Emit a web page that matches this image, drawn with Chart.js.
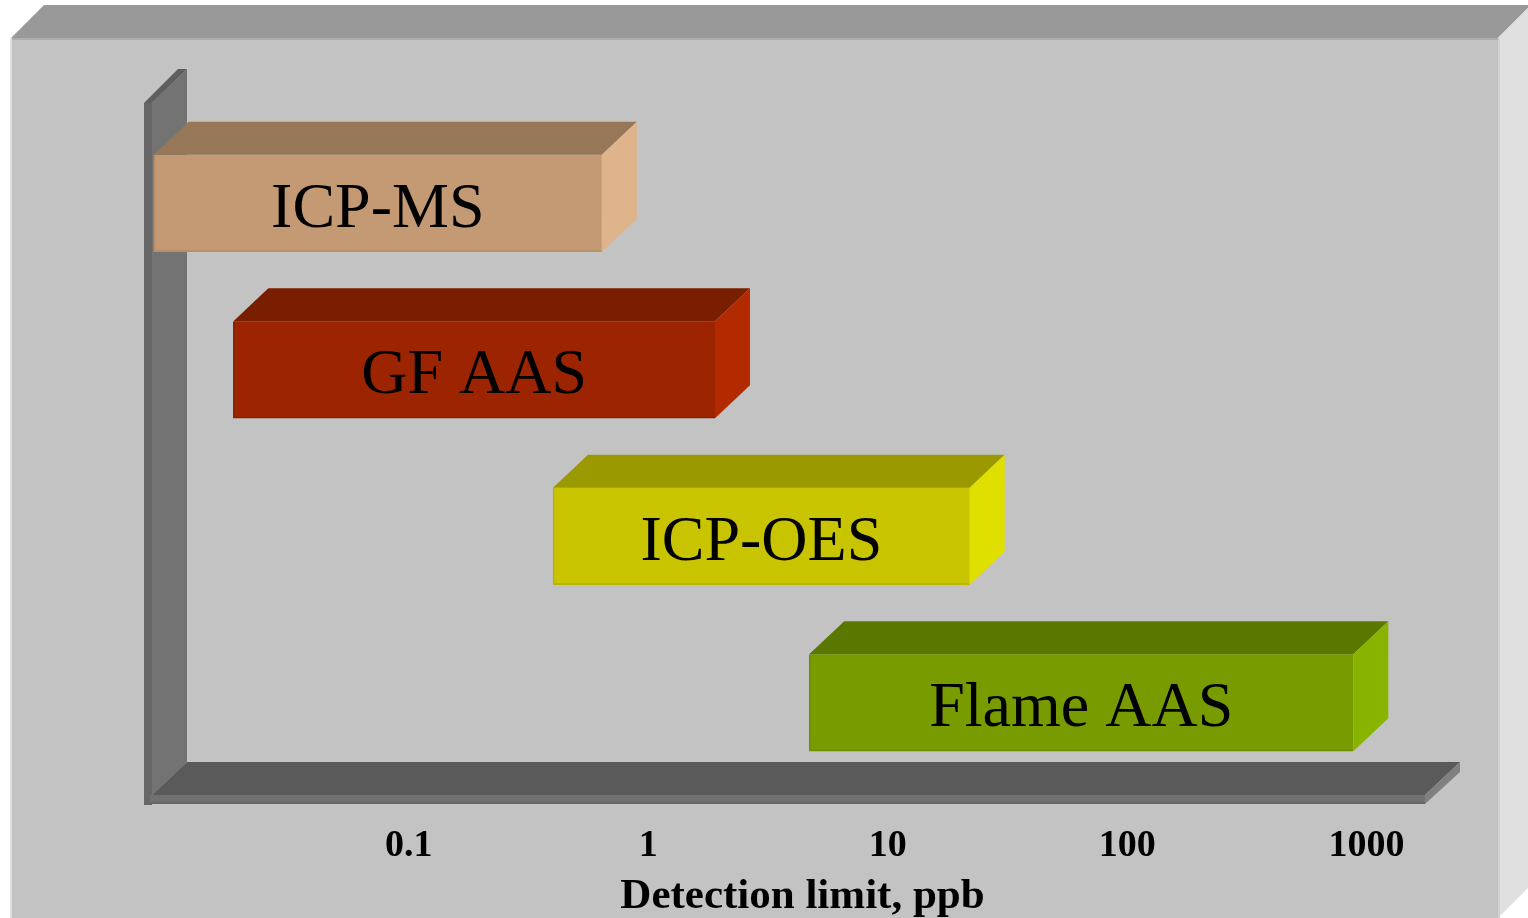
<!DOCTYPE html>
<html>
<head>
<meta charset="utf-8">
<title>Detection limit ranges</title>
<script src="https://cdn.jsdelivr.net/npm/chart.js@4.4.1/dist/chart.umd.min.js"></script>
<style>
  html, body { margin: 0; padding: 0; background: #ffffff; }
  #wrap { width: 1528px; height: 918px; }
  canvas { display: block; }
</style>
</head>
<body>
<div id="wrap"><canvas id="chart" width="1528" height="918"></canvas></div>
<script>
// Techniques and their detection-limit ranges (ppb)
const techniques = ['ICP-MS', 'GF AAS', 'ICP-OES', 'Flame AAS'];
const rangeLow  = [0.0086, 0.0185, 0.40, 4.7];
const rangeHigh = [0.64,   1.9,    22,   880];

// Axis ticks
const tickValues = [0.1, 1, 10, 100, 1000];
const tickLabels = ['0.1', '1', '10', '100', '1000'];

// Face colours for each box: front, top, side, edge
const frontColors = ['#c49a74', '#9c2400', '#c8c400', '#789c00'];
const topColors   = ['#967858', '#7a1e00', '#9a9a00', '#5a7800'];
const sideColors  = ['#e0b48a', '#b42a00', '#e0e000', '#88b400'];
const edgeColors  = ['#b88f69', '#8e2000', '#bab600', '#6e9000'];

const DX = 35, DY = 33; // depth of the 3D extrusion
const SERIF = '"Liberation Serif", "Times New Roman", serif';
const LABEL_SIZE = 64;

function poly(ctx, pts, fill) {
  ctx.beginPath();
  ctx.moveTo(pts[0][0], pts[0][1]);
  for (let i = 1; i < pts.length; i++) ctx.lineTo(pts[i][0], pts[i][1]);
  ctx.closePath();
  ctx.fillStyle = fill;
  ctx.fill();
}

// Room-like frame, walls and box faces around the floating bars
const framePlugin = {
  id: 'frame',
  beforeDraw(chart) {
    const ctx = chart.ctx;
    const W = chart.width, H = chart.height;
    ctx.save();
    ctx.fillStyle = '#ffffff';
    ctx.fillRect(0, 0, W, H);
    const L = 11, T = 38, R = W - 30;
    // back wall
    ctx.fillStyle = '#c3c3c3';
    ctx.fillRect(L, T, R - L, H - T);
    // ceiling
    poly(ctx, [[L, T], [L + 33, T - 33], [W + 3, T - 33], [R, T]], '#999999');
    ctx.fillStyle = '#adadad';
    ctx.fillRect(L, T, R - L, 2);
    // right side wall
    poly(ctx, [[R, T], [W + 3, T - 33], [W + 3, H - 33], [R, H]], '#e0e0e0');
    ctx.fillStyle = '#d2d2d2';
    ctx.fillRect(R, T, 2, H - T);
    // left edge highlight
    ctx.fillStyle = '#dedede';
    ctx.fillRect(L - 1, T, 2, H - T);
    ctx.restore();
  },
  beforeDatasetsDraw(chart) {
    const ctx = chart.ctx;
    const a = chart.chartArea;
    const floorY = a.bottom + 9;      // front top edge of the floor slab
    const floorR = a.right - 30;      // right end of the floor slab
    const x0 = a.left;
    const wallTop = a.top - 17;
    ctx.save();
    // vertical wall: side face
    poly(ctx, [[x0 + 2, wallTop], [x0 + 37, wallTop - DY - 1], [x0 + 37, floorY - DY], [x0 + 2, floorY]], '#737373');
    // vertical wall: front strip and its bevelled top
    ctx.fillStyle = '#676767';
    ctx.fillRect(x0 - 6, wallTop, 8, floorY + 10 - wallTop);
    poly(ctx, [[x0 - 6, wallTop], [x0 + 28, wallTop - DY - 1], [x0 + 37, wallTop - DY - 1], [x0 + 2, wallTop]], '#5e5e5e');
    // floor: top face
    poly(ctx, [[x0 + 2, floorY], [x0 + 37, floorY - DY], [floorR + DX, floorY - DY], [floorR, floorY]], '#5a5a5a');
    // floor: front face
    ctx.fillStyle = '#717171';
    ctx.fillRect(x0, floorY, floorR - x0, 9);
    ctx.fillStyle = '#666666';
    ctx.fillRect(x0, floorY + 7, floorR - x0, 2);
    // floor: right end
    poly(ctx, [[floorR, floorY], [floorR + DX, floorY - DY], [floorR + DX, floorY - DY + 10], [floorR, floorY + 9]], '#808080');
    ctx.restore();
  },
  afterDatasetsDraw(chart) {
    const ctx = chart.ctx;
    const meta = chart.getDatasetMeta(0);
    ctx.save();
    meta.data.forEach((bar, i) => {
      const p = bar.getProps(['x', 'y', 'base', 'height'], true);
      const xs = Math.min(p.x, p.base), xe = Math.max(p.x, p.base);
      const top = p.y - p.height / 2, bot = p.y + p.height / 2;
      // top face
      poly(ctx, [[xs, top], [xs + DX, top - DY], [xe + DX, top - DY], [xe, top]], topColors[i]);
      // side face
      poly(ctx, [[xe, top], [xe + DX, top - DY], [xe + DX, bot - DY], [xe, bot]], sideColors[i]);
      // name on the front face
      ctx.fillStyle = '#000000';
      ctx.font = LABEL_SIZE + 'px ' + SERIF;
      ctx.textAlign = 'center';
      ctx.textBaseline = 'alphabetic';
      ctx.fillText(chart.data.labels[i], (xs + xe) / 2, p.y + 0.37 * LABEL_SIZE);
    });
    ctx.restore();
  }
};

new Chart(document.getElementById('chart'), {
  type: 'bar',
  data: {
    labels: techniques,
    datasets: [{
      label: 'Detection limit',
      data: techniques.map((t, i) => [rangeLow[i], rangeHigh[i]]),
      backgroundColor: frontColors,
      borderColor: edgeColors,
      borderWidth: { top: 0, right: 0, bottom: 2, left: 2 },
      borderSkipped: false,
      barThickness: 97
    }]
  },
  options: {
    indexAxis: 'y',
    responsive: false,
    animation: false,
    layout: { padding: { left: 150, right: 73, top: 120, bottom: 0 } },
    plugins: {
      legend: { display: false },
      tooltip: { enabled: false }
    },
    scales: {
      y: {
        type: 'category',
        display: false
      },
      x: {
        type: 'logarithmic',
        min: 0.0083,
        max: 2340,
        afterBuildTicks(scale) {
          scale.ticks = tickValues.map(v => ({ value: v }));
        },
        afterFit(scale) {
          scale.height = 132;
        },
        grid: { display: false, drawTicks: false },
        border: { display: false },
        ticks: {
          padding: 37,
          autoSkip: false,
          maxRotation: 0,
          color: '#000000',
          font: { family: SERIF, size: 38, weight: 'bold' },
          callback(value) {
            const k = tickValues.indexOf(value);
            return k >= 0 ? tickLabels[k] : '';
          }
        },
        title: {
          display: true,
          text: 'Detection limit, ppb',
          color: '#000000',
          font: { family: SERIF, size: 43, weight: 'bold', lineHeight: 1.0 },
          padding: { top: 0, bottom: 0 }
        }
      }
    }
  },
  plugins: [framePlugin]
});
</script>
</body>
</html>
